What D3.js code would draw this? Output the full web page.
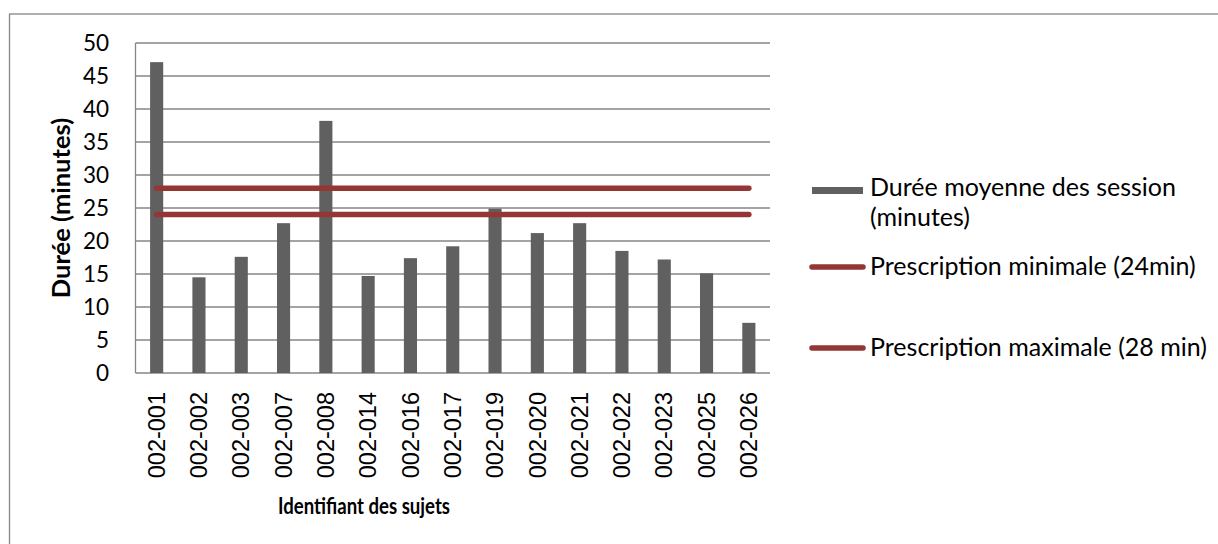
<!DOCTYPE html>
<html>
<head>
<meta charset="utf-8">
<script src="https://cdn.jsdelivr.net/npm/d3@7"></script>
<style>
  body { margin: 0; background: #fff; }
  svg { display: block; }
</style>
</head>
<body>
<svg width="1218" height="544"></svg>
<script>
// Subject ids and mean session duration (minutes)
const subjects = ["002-001", "002-002", "002-003", "002-007", "002-008", "002-014", "002-016",
  "002-017", "002-019", "002-020", "002-021", "002-022", "002-023", "002-025", "002-026"];
const meanDuration = [47.1, 14.5, 17.6, 22.7, 38.2, 14.7, 17.4, 19.2, 24.9, 21.2, 22.7, 18.5, 17.2, 15.1, 7.6];

// Prescription reference lines
const prescriptions = [
  { label: "Prescription minimale (24min)", value: 24 },
  { label: "Prescription maximale (28 min)", value: 28 }
];
const yTicks = [0, 5, 10, 15, 20, 25, 30, 35, 40, 45, 50];

const grid = "#868686";
const barColor = "#606060";
const lineColor = "#943634";

let svg = d3.select("svg");

// outer chart frame (cut off on the right and bottom)
svg.append("rect")
  .attr("x", 9.5).attr("y", 14)
  .attr("width", 1230).attr("height", 560)
  .attr("fill", "none").attr("stroke", grid).attr("stroke-width", 1.3);

let plot = { left: 135.5, right: 770, top: 43, bottom: 373 };

let x = d3.scaleBand()
  .domain(subjects)
  .range([plot.left, plot.right])
  .paddingInner(0.69)
  .paddingOuter(0.345);

let y = d3.scaleLinear()
  .domain([0, 50])
  .range([plot.bottom, plot.top]);

// horizontal gridlines
svg.append("g")
  .selectAll("line")
  .data(yTicks)
  .enter()
  .append("line")
  .attr("x1", plot.left).attr("x2", plot.right)
  .attr("y1", d => y(d)).attr("y2", d => y(d))
  .attr("stroke", grid).attr("stroke-width", 1.3);

// y axis line
svg.append("line")
  .attr("x1", plot.left).attr("x2", plot.left)
  .attr("y1", plot.top).attr("y2", plot.bottom)
  .attr("stroke", grid).attr("stroke-width", 1.3);

// y tick labels
svg.append("g")
  .selectAll("text")
  .data(yTicks)
  .enter()
  .append("text")
  .attr("x", 109)
  .attr("y", d => y(d))
  .attr("dy", "0.35em")
  .attr("text-anchor", "end")
  .style("font-family", "Lato, 'Open Sans', sans-serif")
  .style("font-size", "22.5px")
  .text(d => d);

// bars
svg.append("g")
  .selectAll("rect")
  .data(subjects)
  .enter()
  .append("rect")
  .attr("x", d => x(d))
  .attr("width", x.bandwidth())
  .attr("y", (d, i) => y(meanDuration[i]))
  .attr("height", (d, i) => y(0) - y(meanDuration[i]))
  .attr("fill", barColor);

// prescription lines, from first to last category centre
let xFirst = x(subjects[0]) + x.bandwidth() / 2;
let xLast = x(subjects[subjects.length - 1]) + x.bandwidth() / 2;
svg.append("g")
  .selectAll("line")
  .data(prescriptions)
  .enter()
  .append("line")
  .attr("x1", xFirst).attr("x2", xLast)
  .attr("y1", d => y(d.value)).attr("y2", d => y(d.value))
  .attr("stroke", lineColor)
  .attr("stroke-width", 5.5)
  .attr("stroke-linecap", "round");

// x tick labels (rotated)
svg.append("g")
  .selectAll("text")
  .data(subjects)
  .enter()
  .append("text")
  .attr("transform", d => "translate(" + (x(d) + x.bandwidth() / 2) + ",392) rotate(-90)")
  .attr("dy", "0.35em")
  .attr("text-anchor", "end")
  .style("font-family", "'Liberation Sans', Arial, sans-serif")
  .style("font-size", "23.5px")
  .text(d => d);

// axis titles
svg.append("text")
  .attr("transform", "translate(61," + ((plot.top + plot.bottom) / 2) + ") rotate(-90)")
  .attr("dy", "0.35em")
  .attr("text-anchor", "middle")
  .style("font-family", "Lato, sans-serif")
  .style("font-weight", "bold")
  .style("font-size", "25.5px")
  .text("Durée (minutes)");

// the original title is a condensed face: squeeze it to the same width
svg.append("text")
  .attr("x", 278).attr("y", 514)
  .attr("textLength", 172)
  .attr("lengthAdjust", "spacingAndGlyphs")
  .style("font-family", "Lato, sans-serif")
  .style("font-weight", "bold")
  .style("font-size", "22px")
  .text("Identifiant des sujets");

// legend
let legend = svg.append("g")
  .style("font-family", "Lato, sans-serif")
  .style("font-size", "25px");

legend.append("rect")
  .attr("x", 812).attr("y", 187)
  .attr("width", 51).attr("height", 7)
  .attr("fill", barColor);
legend.append("text")
  .attr("x", 870).attr("y", 196)
  .text("Durée moyenne des session");
legend.append("text")
  .attr("x", 870).attr("y", 226)
  .text("(minutes)");

let legendY = [267, 348];
prescriptions.forEach((p, i) => {
  legend.append("line")
    .attr("x1", 812).attr("x2", 863)
    .attr("y1", legendY[i]).attr("y2", legendY[i])
    .attr("stroke", lineColor)
    .attr("stroke-width", 5.5)
    .attr("stroke-linecap", "round");
  legend.append("text")
    .attr("x", 870).attr("y", legendY[i] + 8)
    .text(p.label);
});
</script>
</body>
</html>
